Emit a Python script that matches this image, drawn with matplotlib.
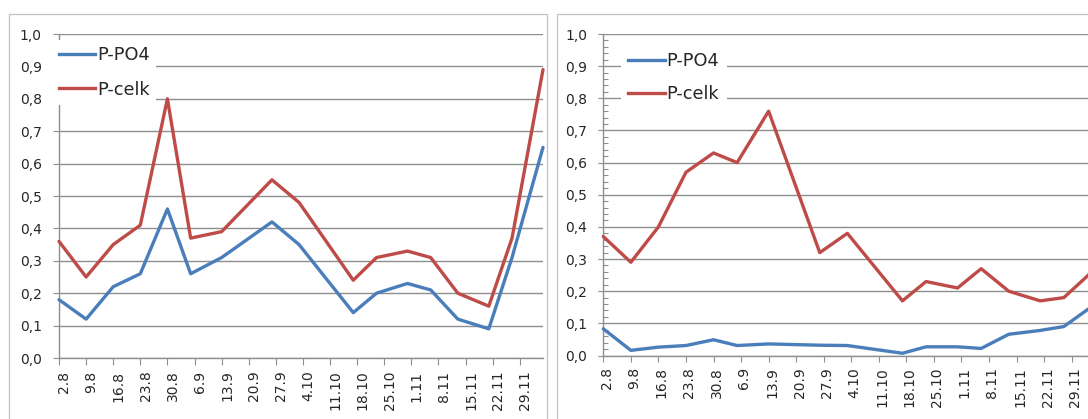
import matplotlib
matplotlib.use("Agg")
import matplotlib.pyplot as plt
import matplotlib.dates as mdates
import matplotlib.transforms as mtransforms
from matplotlib.lines import Line2D
from matplotlib.patches import Rectangle
from matplotlib.ticker import MultipleLocator, FuncFormatter
import numpy as np
import pandas as pd

# ---- data -------------------------------------------------------------
sample_dates = pd.to_datetime([
    "2010-08-02", "2010-08-09", "2010-08-16", "2010-08-23", "2010-08-30",
    "2010-09-05", "2010-09-13", "2010-09-26", "2010-10-03", "2010-10-17",
    "2010-10-23", "2010-10-31", "2010-11-06", "2010-11-13", "2010-11-21",
    "2010-11-27", "2010-12-05",
])
tick_dates = pd.date_range("2010-08-02", "2010-11-29", freq="7D")

series_names = ["P-PO4", "P-celk"]

site1_po4 = [0.18, 0.12, 0.22, 0.26, 0.46, 0.26, 0.31, 0.42, 0.35,
             0.14, 0.20, 0.23, 0.21, 0.12, 0.09, 0.31, 0.65]
site1_celk = [0.36, 0.25, 0.35, 0.41, 0.80, 0.37, 0.39, 0.55, 0.48,
              0.24, 0.31, 0.33, 0.31, 0.20, 0.16, 0.37, 0.89]

site2_po4 = [0.083, 0.016, 0.026, 0.031, 0.049, 0.031, 0.036, 0.032, 0.031,
             0.007, 0.027, 0.027, 0.022, 0.066, 0.078, 0.090, 0.16]
site2_celk = [0.37, 0.29, 0.40, 0.57, 0.63, 0.60, 0.76, 0.32, 0.38,
              0.17, 0.23, 0.21, 0.27, 0.20, 0.17, 0.18, 0.27]

y_ticks = np.round(np.arange(0.0, 1.01, 0.1), 1)

# ---- styling ----------------------------------------------------------
BLUE = "#4a7ebb"
RED = "#be4b48"
GRID = "#8e8e8e"
TEXT = "#262626"
FRAME = "#c3c3c3"
LW = 2.4

W, H = 1088, 419
fig = plt.figure(figsize=(W / 100, H / 100), dpi=100)
fig.patch.set_facecolor("white")


def px_rect(x0, y_top, x1, y_bot):
    return [x0 / W, 1 - y_bot / H, (x1 - x0) / W, (y_bot - y_top) / H]


# outer chart frames
fig.add_artist(Rectangle((8.5 / W, -0.1), (547 - 8.5) / W, 1.1 - 14.5 / H,
                         transform=fig.transFigure, fill=False,
                         edgecolor=FRAME, lw=0.9, clip_on=False))
fig.add_artist(Rectangle((556.5 / W, -0.1), 0.6, 1.1 - 14.5 / H,
                         transform=fig.transFigure, fill=False,
                         edgecolor=FRAME, lw=0.9, clip_on=False))

ax1 = fig.add_axes(px_rect(59, 34, 543, 358))
ax2 = fig.add_axes(px_rect(603.3, 34, 1095.3, 355.5))


def date_label(x, pos):
    d = mdates.num2date(x)
    return f"{d.day}.{d.month}"


def style_axes(ax, po4, celk, xtick_len, ytick_len, label_dx, legend_cfg,
               minor=False):
    ax.plot(sample_dates, po4, color=BLUE, lw=LW, solid_joinstyle="round",
            solid_capstyle="round", clip_on=False, zorder=3)
    ax.plot(sample_dates, celk, color=RED, lw=LW, solid_joinstyle="round",
            solid_capstyle="round", clip_on=False, zorder=3)

    ax.set_xlim(sample_dates[0], sample_dates[-1])
    ax.set_ylim(0, 1.0)

    ax.set_yticks(y_ticks)
    ax.yaxis.set_major_formatter(
        FuncFormatter(lambda v, pos: f"{v:.1f}".replace(".", ",")))
    ax.set_xticks(tick_dates)
    ax.xaxis.set_major_formatter(FuncFormatter(date_label))

    ax.set_axisbelow(True)
    ax.yaxis.grid(True, color=GRID, lw=1.0)
    ax.xaxis.grid(False)

    for side in ("top", "right"):
        ax.spines[side].set_visible(False)
    for side in ("left", "bottom"):
        ax.spines[side].set_color(GRID)
        ax.spines[side].set_linewidth(1.0)

    ax.tick_params(axis="x", direction="out", length=xtick_len, width=0.8,
                   color=GRID, labelsize=10, labelcolor=TEXT,
                   labelrotation=90, pad=4)
    ax.tick_params(axis="y", which="major", direction="out", length=ytick_len,
                   width=0.8, color=GRID, labelsize=10, labelcolor=TEXT,
                   pad=8)
    if minor:
        ax.yaxis.set_minor_locator(MultipleLocator(0.02))
        ax.tick_params(axis="y", which="minor", direction="in", length=3.6,
                       width=0.8, color=GRID)

    shift = mtransforms.ScaledTranslation(label_dx / 100, 0,
                                          fig.dpi_scale_trans)
    for lab in ax.get_xticklabels():
        lab.set_transform(lab.get_transform() + shift)

    handles = [Line2D([], [], color=BLUE, lw=LW),
               Line2D([], [], color=RED, lw=LW)]
    leg = ax.legend(handles, series_names, loc="upper left",
                    bbox_to_anchor=legend_cfg["anchor"],
                    frameon=True, framealpha=1, facecolor="white",
                    edgecolor="none", fancybox=False,
                    borderpad=legend_cfg["borderpad"], borderaxespad=0,
                    handlelength=2.05, handletextpad=0.12,
                    labelspacing=legend_cfg["labelspacing"],
                    fontsize=12.8)
    for t in leg.get_texts():
        t.set_color(TEXT)
    leg.set_zorder(10)


# legend anchor in axes fractions from pixel positions
a1 = ((53 - 59) / (543 - 59), 1 - (40.5 - 34) / (358 - 34))
a2 = ((621 - 603.3) / (1095.3 - 603.3), 1 - (45 - 34) / (355.5 - 34))

style_axes(ax1, site1_po4, site1_celk, xtick_len=5, ytick_len=4.3,
           label_dx=5.5,
           legend_cfg=dict(anchor=a1, borderpad=0.33, labelspacing=0.92))
style_axes(ax2, site2_po4, site2_celk, xtick_len=4.3, ytick_len=3.6,
           label_dx=3.4,
           legend_cfg=dict(anchor=a2, borderpad=0.4, labelspacing=0.86),
           minor=True)

fig.savefig("out.png", dpi=100, facecolor="white")
